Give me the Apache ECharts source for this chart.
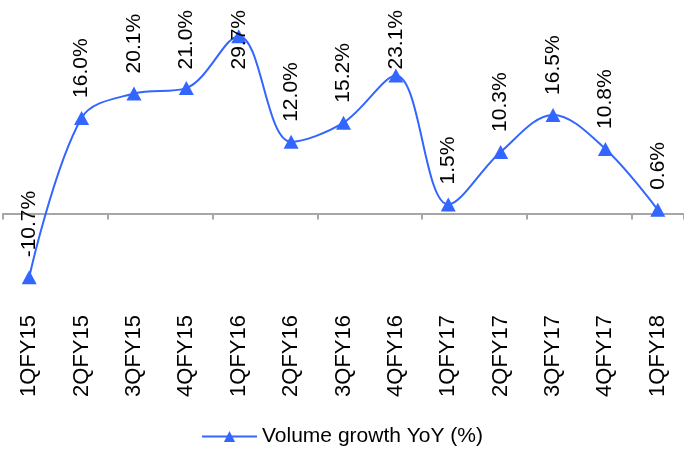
<!DOCTYPE html>
<html>
<head>
<meta charset="utf-8">
<script src="https://cdn.jsdelivr.net/npm/echarts@6/dist/echarts.min.js"></script>
<style>
  html, body { margin: 0; padding: 0; background: #fff; }
  #chart { width: 684px; height: 454px; }
</style>
</head>
<body>
<div id="chart"></div>
<script>
// Quarterly volume growth, year on year
var quarters = ['1QFY15', '2QFY15', '3QFY15', '4QFY15', '1QFY16', '2QFY16', '3QFY16',
                '4QFY16', '1QFY17', '2QFY17', '3QFY17', '4QFY17', '1QFY18'];
var volumeGrowth = [-10.7, 16.0, 20.1, 21.0, 29.7, 12.0, 15.2, 23.1, 1.5, 10.3, 16.5, 10.8, 0.6];
var seriesName = 'Volume growth YoY (%)';

var FONT = '"Liberation Sans", Arial, sans-serif';
var BLUE = '#3366FF';
var LABEL_SIZE = 21;
var LABEL_DIST = 13;
var MARKER_H = 14;
var TOP_LIMIT = 10;

function fmt(v) { return v.toFixed(1) + '%'; }

var chart = echarts.init(document.getElementById('chart'), null, { renderer: 'canvas' });

chart.setOption({
  animation: false,
  backgroundColor: '#ffffff',
  textStyle: { fontFamily: FONT },
  grid: { left: 3, width: 682, top: 4.5, bottom: 151, containLabel: false },
  legend: {
    data: [seriesName],
    bottom: 2,
    left: 'center',
    itemWidth: 55,
    itemHeight: 14,
    itemGap: 8,
    textStyle: { fontFamily: FONT, fontSize: 21, color: '#000' }
  },
  xAxis: [
    {
      // zero line with tick marks between quarters
      type: 'category',
      data: quarters,
      boundaryGap: true,
      axisLine: { onZero: true, lineStyle: { color: '#A6A6A6', width: 2 } },
      axisTick: { show: true, length: 6, lineStyle: { color: '#A6A6A6', width: 2 } },
      axisLabel: { show: false },
      splitLine: { show: false }
    },
    {
      // quarter names along the bottom
      type: 'category',
      data: quarters,
      position: 'bottom',
      boundaryGap: true,
      axisLine: { show: false, onZero: false },
      axisTick: { show: false },
      axisLabel: {
        rotate: 90,
        margin: 12,
        fontFamily: FONT,
        fontSize: 22,
        color: '#000',
        interval: 0
      },
      splitLine: { show: false }
    }
  ],
  yAxis: {
    type: 'value',
    min: -15,
    max: 35,
    show: false,
    splitLine: { show: false }
  },
  series: [{
    name: seriesName,
    type: 'line',
    xAxisIndex: 0,
    data: volumeGrowth,
    smooth: 0.35,
    symbol: 'triangle',
    symbolSize: [15, MARKER_H],
    lineStyle: { color: BLUE, width: 2 },
    itemStyle: { color: BLUE },
    label: {
      show: true,
      position: 'top',
      distance: LABEL_DIST,
      rotate: 90,
      align: 'left',
      verticalAlign: 'middle',
      fontFamily: FONT,
      fontSize: LABEL_SIZE,
      color: '#000',
      formatter: function (p) { return fmt(p.value); }
    }
  }]
});

// Pull down any value label that would run past the top of the chart
var ctx = document.createElement('canvas').getContext('2d');
ctx.font = LABEL_SIZE + 'px ' + FONT;
var items = volumeGrowth.map(function (v, i) {
  var pt = chart.convertToPixel({ xAxisIndex: 0, yAxisIndex: 0 }, [i, v]);
  var len = ctx.measureText(fmt(v)).width;
  var top = pt[1] - MARKER_H / 2 - LABEL_DIST - len;
  if (top < TOP_LIMIT) {
    return { value: v, label: { distance: LABEL_DIST - (TOP_LIMIT - top) } };
  }
  return v;
});
chart.setOption({ series: [{ data: items }] });
</script>
</body>
</html>
